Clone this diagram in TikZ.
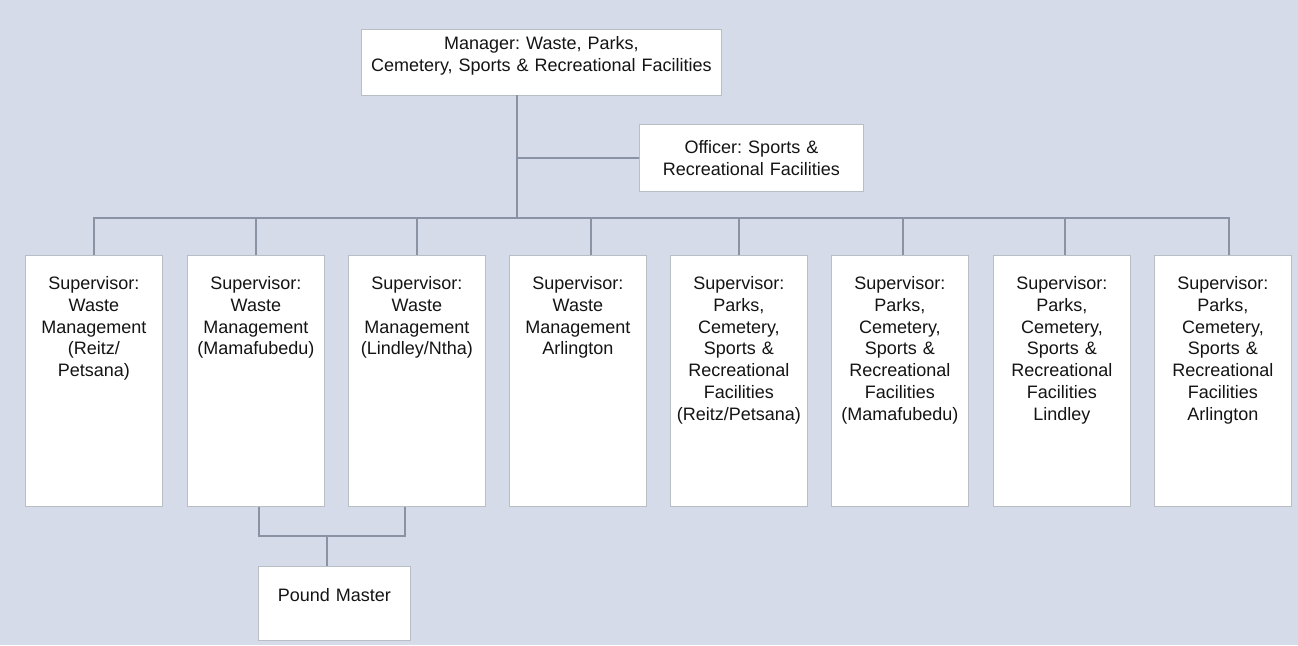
\documentclass[tikz,border=0pt]{standalone}
\usepackage{fontspec}
\setmainfont{Liberation Sans}
\frenchspacing
\definecolor{slate}{HTML}{D5DBE9}
\definecolor{wire}{HTML}{8A93A3}
\definecolor{rim}{HTML}{B9BDC4}

\begin{document}
\begin{tikzpicture}[x=1pt, y=-1pt,
  font=\fontsize{18}{21.8}\selectfont,
  unit/.style={draw=rim, line width=0.8pt, fill=white, text=black!92,
               inner sep=0pt, align=center, anchor=north west},
  sup/.style={unit, text width=137pt, text height=34pt, text depth=217pt},
  link/.style={draw=wire, line width=1.2pt}
]
\fill[slate] (0,0) rectangle (1298,645);
\useasboundingbox (0,0) rectangle (1298,645);

\node[unit, text width=360pt, text height=20.5pt, text depth=45.5pt] (mgr) at (361,29)
  {Manager: Waste, Parks,\\Cemetery, Sports \& Recreational Facilities};
\node[unit, text width=224pt, text height=29.5pt, text depth=37.5pt] (off) at (639,124)
  {Officer: Sports \&\\Recreational Facilities};

\node[sup] (s1) at (25,255)   {Supervisor:\\Waste\\Management\\(Reitz/\\Petsana)};
\node[sup] (s2) at (187,255)  {Supervisor:\\Waste\\Management\\(Mamafubedu)};
\node[sup] (s3) at (348,255)  {Supervisor:\\Waste\\Management\\(Lindley/Ntha)};
\node[sup] (s4) at (509,255)  {Supervisor:\\Waste\\Management\\Arlington};
\node[sup] (s5) at (670,255)  {Supervisor:\\Parks,\\Cemetery,\\Sports \&\\Recreational\\Facilities\\(Reitz/Petsana)};
\node[sup] (s6) at (831,255)  {Supervisor:\\Parks,\\Cemetery,\\Sports \&\\Recreational\\Facilities\\(Mamafubedu)};
\node[sup] (s7) at (993,255)  {Supervisor:\\Parks,\\Cemetery,\\Sports \&\\Recreational\\Facilities\\Lindley};
\node[sup] (s8) at (1154,255) {Supervisor:\\Parks,\\Cemetery,\\Sports \&\\Recreational\\Facilities\\Arlington};

\node[unit, text width=152pt, text height=35.5pt, text depth=38.5pt] (pm) at (258,566)
  {Pound Master};

% trunk and bus
\coordinate (top) at (517,95);
\coordinate (hub) at (517,218);
\draw[link] (top) -- (hub);
\draw[link] (off.west) -- (off.west -| hub);
\foreach \n/\dx in {s1/0, s2/0, s3/0, s4/13, s5/0, s6/3, s7/3, s8/6}
  \draw[link] ([xshift=\dx pt]\n.north) |- (hub);

% pound master
\coordinate (pj) at (327,536);
\draw[link] ([xshift=3pt]s2.south) |- (pj);
\draw[link] ([xshift=-12pt]s3.south) |- (pj);
\draw[link] (pj) -- (pj |- pm.north);
\end{tikzpicture}
\end{document}
